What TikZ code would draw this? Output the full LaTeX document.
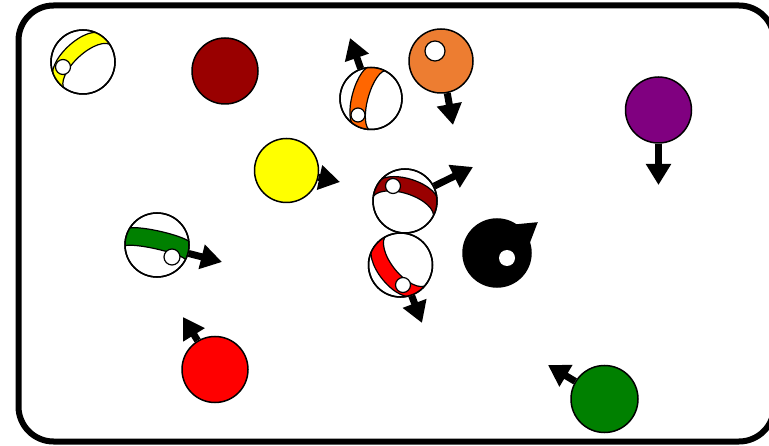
\documentclass[tikz,border=0pt]{standalone}
\usepackage{tikz}
\usetikzlibrary{arrows.meta}
\definecolor{darkred}{HTML}{990000}
\definecolor{orangestripe}{HTML}{FF6600}
\definecolor{orangesolid}{HTML}{ED7D31}
\definecolor{purple}{HTML}{800080}
\definecolor{green}{HTML}{008000}
\definecolor{red}{HTML}{FF0000}
\definecolor{yellow}{HTML}{FFFF00}

\tikzset{
  ball/.style={draw, circle, line width=1.5pt, inner sep=0pt, minimum size=#1},
  dot/.style={draw, circle, fill=white, line width=1.2pt, inner sep=0pt, minimum size=#1},
  vel/.style={line width=7pt, -{Triangle[length=21pt, width=24pt]}},
}

% coloured band of a striped ball: centre, radius, turn, bulge, half width, colour
\newcommand{\band}[6]{%
  \begin{scope}[shift={(#1.center)}, rotate=#3]
    \clip (0,0) circle (#2);
    \filldraw[fill=#6, line width=1.2pt] (-#2-4,#5) -- (-#2,#5)
      arc[start angle=180, end angle=360, x radius=#2, y radius=#4] -- (#2+4,#5)
      -- (#2+4,-#5) -- (#2,-#5)
      arc[start angle=0, end angle=-180, x radius=#2, y radius=#4] -- (-#2-4,-#5) -- cycle;
  \end{scope}
  \draw[line width=1.5pt] (#1.center) circle (#2);}

\begin{document}
\begin{tikzpicture}[x=1pt, y=1pt]
  \useasboundingbox (0,0) rectangle (769,445);
  \clip (0,0) rectangle (769,445);

  % table frame, runs off on the right
  \draw[line width=6pt, rounded corners=35pt] (18.5,3.5) rectangle (774,439.5);

  % solid balls
  \node[ball=66pt, fill=darkred] (DarkRed) at (225,374) {};
  \node[ball=64pt, fill=orangesolid] (Orange) at (441,384) {};
  \node[ball=66pt, fill=purple] (Purple) at (658.5,335) {};
  \node[ball=64pt, fill=yellow] (Yellow) at (286.5,274.5) {};
  \node[ball=68pt, fill=black] (Black) at (497,192) {};
  \node[ball=66pt, fill=red] (Red) at (215,75.5) {};
  \node[ball=67pt, fill=green] (Green) at (604.5,46) {};

  % striped balls
  \node[ball=64pt, fill=white] (YellowStripe) at (83,383) {};
  \band{YellowStripe}{32}{223}{14}{7.5}{yellow}
  \node[ball=62pt, fill=white] (OrangeStripe) at (371,346.5) {};
  \band{OrangeStripe}{31}{-105.3}{11}{8}{orangestripe}
  \node[ball=64pt, fill=white] (DarkRedStripe) at (405,244) {};
  \band{DarkRedStripe}{32}{162.4}{15}{7.5}{darkred}
  \node[ball=64pt, fill=white] (GreenStripe) at (157,200) {};
  \band{GreenStripe}{32}{167.3}{5}{9}{green}
  \node[ball=64pt, fill=white] (RedStripe) at (400.5,180) {};
  \band{RedStripe}{32}{-51}{15}{8}{red}

  % white spots
  \node[dot=15pt] (YellowStripeDot) at (63,378) {};
  \node[dot=14pt] (OrangeStripeDot) at (358,330) {};
  \node[dot=20pt] (OrangeDot) at (435,394) {};
  \node[dot=15pt] (DarkRedStripeDot) at (393,259) {};
  \node[dot=16pt] (GreenStripeDot) at (172,188) {};
  \node[dot=15pt] (RedStripeDot) at (403,160) {};
  \node[dot=16pt, draw=none] (BlackDot) at (507,187) {};

  % velocity arrows
  \coordinate (OrangeStripeTip) at (350,407);
  \coordinate (OrangeTip) at (453,320);
  \coordinate (PurpleTip) at (658.5,260);
  \coordinate (YellowTip) at (340,263);
  \coordinate (DarkRedStripeTip) at (473,278);
  \coordinate (GreenStripeTip) at (222,183);
  \coordinate (RedStripeTip) at (422,122);
  \coordinate (BlackTip) at (538,223);
  \coordinate (RedTip) at (183,128);
  \coordinate (GreenTip) at (548,80);

  \draw[vel] (OrangeStripe.109) -- (OrangeStripeTip);
  \draw[vel] (Orange.-79) -- (OrangeTip);
  \draw[vel] (Purple.south) -- (PurpleTip);
  \draw[vel] (Yellow.-12) -- (YellowTip);
  \draw[vel] (DarkRedStripe.27) -- (DarkRedStripeTip);
  \draw[vel] (GreenStripe.-15) -- (GreenStripeTip);
  \draw[vel] (RedStripe.-70) -- (RedStripeTip);
  \draw[vel] (Black.37) -- (BlackTip);
  \draw[vel] (Red.121) -- (RedTip);
  \draw[vel] (Green.149) -- (GreenTip);
\end{tikzpicture}
\end{document}
